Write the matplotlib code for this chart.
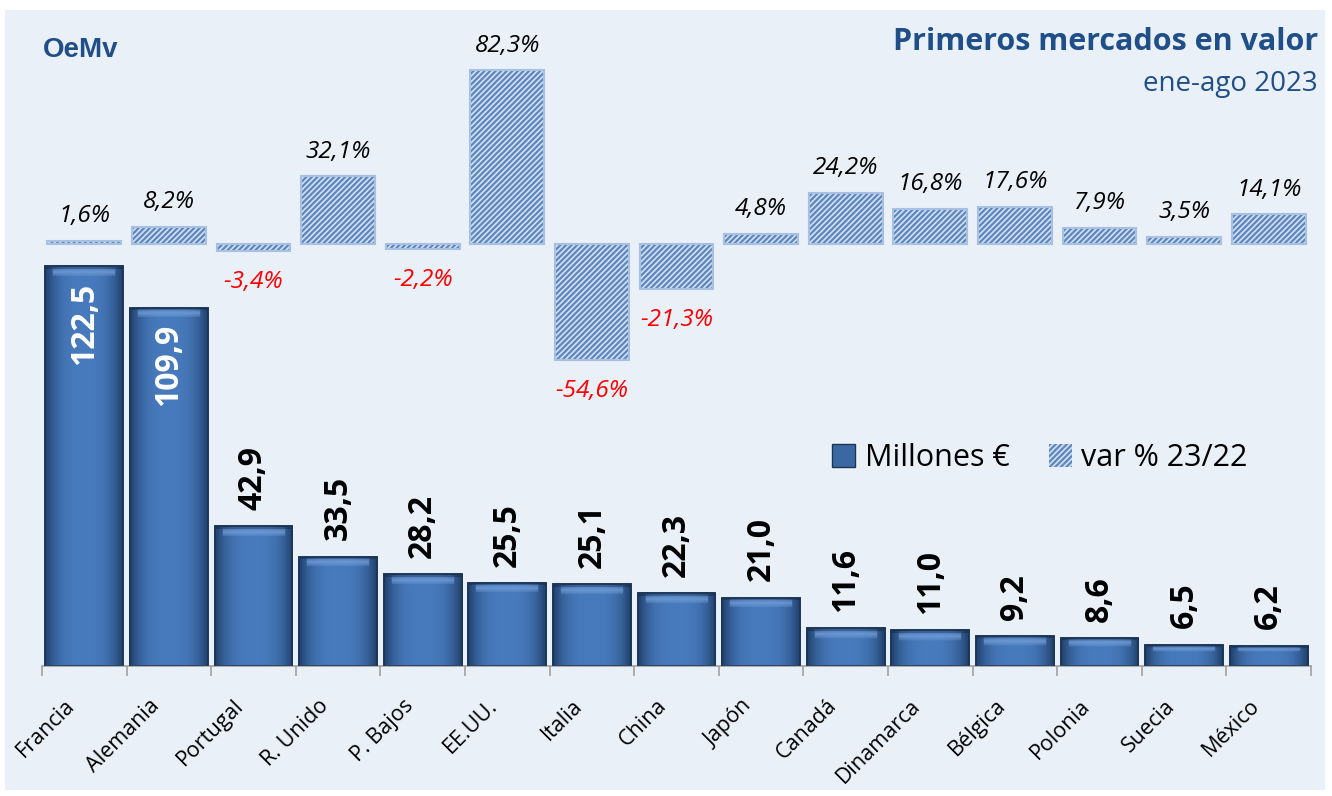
import matplotlib
matplotlib.use("Agg")
import matplotlib.pyplot as plt
import numpy as np
from matplotlib.patches import Patch, Rectangle
from matplotlib.transforms import ScaledTranslation

paises = ["Francia", "Alemania", "Portugal", "R. Unido", "P. Bajos", "EE.UU.", "Italia",
          "China", "Japón", "Canadá", "Dinamarca", "Bélgica", "Polonia", "Suecia", "México"]
millones = [122.5, 109.9, 42.9, 33.5, 28.2, 25.5, 25.1, 22.3, 21.0, 11.6, 11.0, 9.2, 8.6, 6.5, 6.2]
var_pct = [1.6, 8.2, -3.4, 32.1, -2.2, 82.3, -54.6, -21.3, 4.8, 24.2, 16.8, 17.6, 7.9, 3.5, 14.1]

W, H = 1332, 796
azul_titulo = "#1F4E88"
fondo = "#E9F0F8"

plt.rcParams["font.family"] = ["Open Sans", "DejaVu Sans"]
plt.rcParams["hatch.linewidth"] = 1.6

fig = plt.figure(figsize=(W / 100, H / 100), dpi=100, facecolor="white")
fig.patches.append(Rectangle((5 / W, 6 / H), 1320 / W, 780 / H, transform=fig.transFigure,
                             facecolor=fondo, edgecolor="none", zorder=-10))

def coma(v, dec=1):
    return f"{v:.{dec}f}".replace(".", ",")

x = np.arange(len(paises))

# --- bottom: values in millions
ax = fig.add_axes([42 / W, 130 / H, 1269 / W, 424 / H])
ax.set_facecolor("none")
bars = ax.bar(x, millones, width=0.92, color="#3B68A3", edgecolor="#1B3558", linewidth=1.2, zorder=2)

px_per_unit = 424 / 130
dark = np.array([0.13, 0.25, 0.42])
mid = np.array([0.28, 0.48, 0.74])
light = np.array([0.45, 0.62, 0.85])
for rect in bars:
    x0, w, h = rect.get_x(), rect.get_width(), rect.get_height()
    n_rows = max(int(h * px_per_unit), 2)
    cols = np.linspace(-1, 1, 80)
    prof = 1 - np.abs(cols) ** 3
    img = dark[None, None, :] + (mid - dark)[None, None, :] * prof[None, :, None]
    img = np.repeat(img, n_rows, axis=0)
    # soft bevel near the top
    bevel = min(10, n_rows // 3)
    for r in range(bevel):
        k = 1 - abs(r - bevel * 0.55) / (bevel * 0.55)
        k = max(k, 0) * 0.8
        img[r, 8:-8] = img[r, 8:-8] * (1 - k) + light * k
    darkrows = min(3, n_rows)
    img[:darkrows] = img[:darkrows] * 0.75
    im = ax.imshow(img, extent=[x0, x0 + w, 0, h], aspect="auto", zorder=2.5, interpolation="bilinear")
    im.set_clip_path(rect)
    ax.add_patch(Rectangle((x0, 0), w, h, fill=False, edgecolor="#1B3558", linewidth=1.2, zorder=3))

ax.set_xlim(-0.5, len(paises) - 0.5)
ax.set_ylim(0, 130)

for i, v in enumerate(millones):
    if v > 100:
        ax.text(i, v - 5, coma(v), rotation=90, ha="center", va="top", color="white",
                fontsize=23, fontweight="bold", zorder=4)
    else:
        ax.text(i, v + 5, coma(v), rotation=90, ha="center", va="bottom", color="black",
                fontsize=23, fontweight="bold", zorder=4)

for s in ["top", "right", "left"]:
    ax.spines[s].set_visible(False)
ax.spines["bottom"].set_color("#A0A0A0")
ax.spines["bottom"].set_linewidth(1.2)
ax.set_yticks([])
ax.set_xticks(x)
ax.set_xticklabels(paises, rotation=45, ha="right", rotation_mode="anchor", fontsize=15.5)
ax.tick_params(axis="x", which="major", length=0, pad=14)
ax.set_xticks(np.arange(-0.5, len(paises), 1), minor=True)
ax.tick_params(axis="x", which="minor", length=7, color="#A0A0A0", width=1.2)
for lbl in ax.get_xticklabels():
    lbl.set_transform(lbl.get_transform() + ScaledTranslation(-0.20, -0.10, fig.dpi_scale_trans))

# --- top: variation %
ax2 = fig.add_axes([42 / W, 425 / H, 1269 / W, 317 / H])
ax2.set_facecolor("none")
ax2.set_xlim(-0.5, len(paises) - 0.5)
ax2.set_ylim(-60, 90)
ax2.axis("off")
ax2.bar(x, var_pct, width=0.87, color="#D3E1F3", edgecolor="#5E86BE", hatch="//////",
        linewidth=0, zorder=2)
ax2.bar(x, var_pct, width=0.87, fill=False, edgecolor="#A8C1E2", linewidth=1.5, zorder=3)

for i, v in enumerate(var_pct):
    if v >= 0:
        ax2.text(i, v + 6, coma(v) + "%", ha="center", va="bottom", fontsize=17.5,
                 fontstyle="italic", color="black")
    else:
        ax2.text(i, v - 9, coma(v) + "%", ha="center", va="top", fontsize=17.5,
                 fontstyle="italic", color="#FF0000")

# --- titles
fig.text(1318 / W, 1 - 42 / H, "Primeros mercados en valor", ha="right", va="center",
         fontsize=22, fontweight="bold", color=azul_titulo)
fig.text(1318 / W, 1 - 84 / H, "ene-ago 2023", ha="right", va="center",
         fontsize=20, color=azul_titulo)
fig.text(43 / W, 1 - 50 / H, "OeMv", ha="left", va="center", fontsize=20, fontweight="bold",
         color=azul_titulo, family="Liberation Sans")

handles = [Patch(facecolor="#3B68A3", edgecolor="#1B3558", label="Millones €"),
           Patch(facecolor="#D3E1F3", edgecolor="#5E86BE", hatch="//////", linewidth=0,
                 label="var % 23/22")]
fig.legend(handles=handles, loc="center", bbox_to_anchor=(1040 / W, 1 - 458 / H), ncol=2,
           frameon=False, fontsize=22, handlelength=0.75, handleheight=0.75,
           handletextpad=0.3, columnspacing=1.3)

fig.savefig("out.png", dpi=100, facecolor="white")
